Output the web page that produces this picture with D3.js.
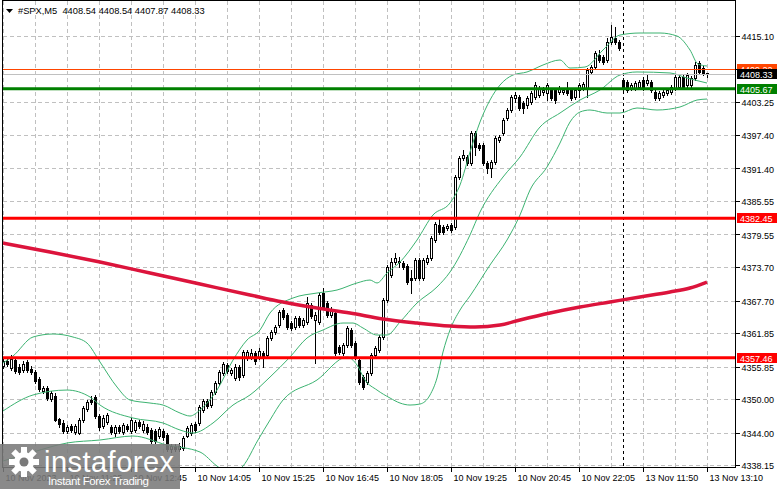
<!DOCTYPE html>
<html><head><meta charset="utf-8">
<script src="https://cdn.jsdelivr.net/npm/d3@7/dist/d3.min.js"></script>
<style>
html,body{margin:0;padding:0;background:#fff;overflow:hidden;}
svg{display:block;}
text{font-family:"Liberation Sans",Arial,sans-serif;}
</style></head><body>
<svg id="c" width="781" height="489"></svg>
<script>
// ---------- DATA ----------
const title = "#SPX,M5  4408.54 4408.54 4407.87 4408.33";
const opens = [4355.96,4356.86,4355.60,4357.03,4355.78,4355.24,4356.68,4355.42,4354.88,4353.63,4351.47,4352.01,4350.04,4350.58,4346.45,4345.74,4344.30,4345.20,4344.12,4343.94,4346.27,4348.25,4349.86,4350.40,4346.99,4345.20,4345.91,4345.02,4343.94,4345.02,4344.12,4345.20,4344.30,4344.48,4345.91,4344.48,4345.02,4344.48,4344.30,4343.40,4344.30,4343.58,4341.07,4341.61,4341.07,4341.25,4343.40,4343.94,4345.56,4345.74,4348.07,4349.68,4348.96,4351.29,4352.91,4354.70,4356.14,4354.70,4353.81,4355.78,4354.34,4357.57,4357.57,4358.29,4357.57,4358.29,4357.93,4360.98,4362.06,4363.31,4366.00,4365.11,4363.67,4362.95,4364.57,4363.31,4363.85,4366.90,4364.21,4363.85,4369.05,4367.26,4365.11,4365.47,4359.37,4358.29,4359.73,4362.42,4360.08,4357.03,4353.98,4353.09,4354.70,4357.93,4358.83,4361.16,4367.80,4372.28,4374.61,4374.79,4374.44,4373.90,4371.74,4371.74,4374.97,4371.74,4374.61,4375.33,4378.56,4381.25,4380.89,4380.71,4381.25,4380.89,4389.86,4393.27,4393.45,4392.37,4397.75,4395.60,4395.60,4392.37,4391.48,4392.55,4396.50,4397.75,4400.44,4401.88,4404.03,4404.21,4403.13,4402.78,4403.31,4404.21,4404.57,4405.11,4404.93,4405.47,4405.47,4405.11,4405.11,4405.83,4405.47,4404.21,4405.47,4405.83,4405.83,4408.70,4409.59,4411.74,4411.39,4410.85,4414.08,4414.79,4414.08,4407.26,4406.90,4405.83,4405.83,4406.00,4407.26,4406.72,4406.90,4405.11,4404.03,4404.57,4404.93,4405.11,4405.83,4406.00,4407.80,4406.36,4406.36,4407.62,4410.31,4409.41,4408.54];
const highs = [4357.39,4357.57,4357.93,4357.39,4356.32,4356.86,4357.03,4355.96,4355.24,4353.98,4352.37,4352.37,4351.47,4351.12,4346.63,4346.27,4345.38,4345.56,4345.56,4346.63,4348.78,4349.86,4350.58,4350.76,4347.35,4347.17,4347.53,4345.38,4345.38,4345.38,4345.74,4345.56,4346.63,4346.27,4346.27,4346.09,4345.56,4344.84,4344.66,4345.02,4344.66,4343.94,4341.97,4341.97,4342.15,4343.40,4345.20,4345.74,4345.91,4348.96,4350.04,4350.04,4351.65,4353.27,4355.24,4356.68,4356.50,4355.60,4356.32,4356.14,4358.83,4358.83,4359.01,4358.65,4359.19,4358.65,4361.34,4362.42,4363.31,4366.00,4366.36,4365.47,4364.03,4364.93,4364.93,4364.57,4368.34,4367.26,4365.65,4369.05,4369.95,4367.62,4366.54,4365.83,4359.73,4360.08,4363.13,4362.77,4360.44,4357.39,4354.34,4355.06,4358.29,4359.55,4361.52,4368.16,4374.08,4375.33,4376.23,4375.51,4374.79,4374.26,4373.18,4375.33,4375.33,4375.33,4375.87,4379.28,4381.79,4382.33,4381.25,4381.43,4381.61,4390.22,4393.63,4394.70,4393.81,4398.11,4398.11,4395.96,4395.96,4392.73,4392.91,4397.22,4397.39,4400.44,4402.24,4404.57,4405.11,4404.57,4403.49,4404.39,4405.29,4406.90,4406.18,4406.00,4406.72,4405.83,4405.83,4406.18,4405.83,4406.90,4405.83,4405.83,4406.72,4406.90,4409.41,4409.95,4412.46,4412.64,4411.74,4414.79,4417.13,4416.77,4414.43,4407.62,4407.26,4406.72,4407.08,4407.26,4407.80,4408.16,4407.26,4405.47,4405.29,4405.47,4405.83,4406.36,4408.16,4408.16,4408.16,4408.52,4407.98,4410.49,4410.67,4409.77,4408.54];
const lows = [4355.60,4355.96,4355.24,4354.70,4354.52,4354.88,4354.88,4354.52,4352.91,4351.47,4351.12,4349.86,4349.68,4346.09,4345.02,4343.94,4343.94,4344.12,4343.76,4343.76,4345.91,4347.89,4349.14,4346.63,4344.48,4344.84,4345.56,4343.76,4343.40,4343.94,4343.76,4344.30,4343.94,4344.12,4344.84,4344.12,4343.76,4342.15,4342.15,4343.05,4342.69,4340.71,4340.53,4340.71,4340.71,4340.89,4343.22,4343.58,4344.12,4345.38,4347.71,4348.43,4348.60,4350.94,4352.55,4354.34,4354.70,4354.34,4353.45,4353.45,4353.98,4357.03,4357.21,4356.32,4357.21,4355.78,4357.57,4360.62,4361.70,4362.95,4364.39,4362.60,4362.42,4362.60,4362.95,4362.95,4363.49,4364.57,4356.50,4363.49,4366.18,4364.75,4364.75,4357.93,4358.11,4357.93,4359.37,4359.37,4357.21,4352.73,4351.83,4352.73,4354.34,4357.57,4358.47,4360.80,4367.44,4371.92,4374.26,4373.72,4373.36,4370.67,4369.05,4371.38,4371.38,4371.38,4374.26,4374.97,4378.20,4379.64,4379.64,4380.36,4380.00,4380.53,4389.50,4392.91,4392.01,4392.01,4393.81,4394.70,4392.01,4390.58,4389.86,4392.19,4396.14,4397.39,4400.09,4401.52,4403.31,4401.88,4401.34,4402.24,4402.96,4403.85,4404.21,4404.57,4403.67,4403.67,4403.13,4404.75,4404.75,4404.57,4403.67,4403.85,4404.21,4405.47,4404.21,4408.34,4409.23,4410.49,4410.13,4410.49,4413.72,4413.72,4412.64,4405.47,4405.11,4405.47,4405.47,4405.65,4405.47,4406.36,4405.11,4403.67,4403.67,4404.21,4404.57,4404.75,4405.47,4405.65,4405.65,4406.00,4406.00,4407.26,4408.34,4408.16,4407.87];
const closes = [4356.86,4356.32,4357.21,4355.06,4354.88,4356.32,4355.24,4354.88,4353.27,4351.83,4352.01,4350.22,4351.12,4346.27,4345.56,4344.30,4345.02,4344.48,4345.20,4346.27,4348.43,4349.50,4349.50,4346.99,4345.02,4346.63,4347.17,4344.12,4345.02,4344.30,4345.38,4344.66,4346.27,4345.91,4345.20,4345.56,4344.12,4342.51,4342.51,4344.66,4343.22,4341.07,4341.61,4341.07,4341.61,4343.05,4344.84,4345.38,4344.48,4348.60,4349.68,4348.78,4351.29,4352.91,4354.88,4356.32,4355.06,4355.24,4355.78,4353.98,4358.47,4358.47,4358.29,4356.86,4358.65,4357.57,4360.98,4362.06,4362.95,4365.65,4364.75,4362.95,4362.77,4364.57,4363.31,4364.21,4367.26,4364.93,4365.11,4368.70,4366.54,4365.11,4366.18,4358.29,4358.47,4359.73,4362.77,4359.73,4357.57,4353.09,4352.19,4354.70,4357.93,4359.19,4361.16,4367.80,4373.72,4374.61,4375.33,4374.61,4373.72,4371.02,4371.38,4374.97,4371.74,4374.97,4375.33,4378.92,4381.43,4380.00,4380.00,4381.07,4380.36,4389.86,4393.27,4393.81,4392.37,4397.75,4395.24,4395.06,4392.37,4391.48,4392.55,4396.86,4397.04,4400.09,4401.88,4404.21,4404.57,4402.24,4402.24,4404.03,4404.93,4406.36,4405.83,4405.47,4406.36,4404.03,4403.67,4405.83,4405.47,4404.93,4404.03,4405.47,4406.36,4406.54,4409.05,4409.59,4412.10,4410.85,4410.49,4414.08,4414.97,4414.08,4413.00,4405.83,4405.47,4406.36,4406.72,4406.90,4405.83,4407.26,4405.47,4404.03,4404.93,4405.11,4405.47,4406.00,4407.80,4407.80,4406.00,4408.16,4407.62,4409.95,4408.70,4408.52,4408.33];

// Bollinger bands and moving average: [bar index, price]
const upperBand = [[0,4356.50],[2.5,4357.75],[7.5,4361.16],[12.5,4361.70],[17.5,4361.16],[21,4360.08],[24.25,4356.68],[28.5,4352.19],[31.75,4349.86],[36.75,4349.32],[40,4348.96],[44.25,4347.53],[46.75,4346.99],[49.25,4348.07],[53.5,4351.65],[57.5,4357.03],[61,4360.62],[64.25,4362.42],[66.75,4365.47],[72.5,4368.16],[78.5,4369.05],[83.5,4369.59],[88.5,4370.85],[91.75,4371.38],[93.5,4370.85],[96,4372.64],[99.25,4374.61],[103.5,4378.56],[107.5,4383.05],[111.75,4385.20],[114.25,4388.43],[116.75,4394.35],[119.25,4399.73],[121.75,4403.67],[124.25,4406.36],[127.5,4408.16],[131,4408.70],[135,4409.95],[139.25,4410.85],[141.75,4409.41],[145.5,4409.59],[150,4412.64],[154.25,4415.33],[159.25,4415.69],[164.25,4415.69],[168.5,4415.15],[171.75,4412.64],[173.75,4410.13],[176,4409.77]];
const middleBand = [[0,4347.89],[7.5,4350.76],[16,4351.65],[21.75,4350.40],[24.25,4348.96],[32.5,4346.63],[40,4345.74],[44.25,4344.48],[47.5,4343.94],[52.5,4345.74],[57.5,4348.96],[61.75,4350.76],[66.75,4353.98],[71.75,4357.57],[76,4360.98],[80,4362.42],[85,4363.67],[87.5,4363.67],[90,4362.77],[93.5,4361.52],[96,4361.52],[99.25,4363.85],[103.5,4367.26],[108.5,4370.13],[111.75,4372.82],[116.75,4379.46],[119.25,4383.58],[125,4389.86],[129.25,4393.45],[134.25,4398.83],[139.25,4401.34],[144.25,4403.67],[149.25,4405.47],[154.25,4408.16],[158.5,4408.70],[166.75,4408.52],[171,4407.62],[176,4406.72]];
const lowerBand = [[0,4338.92],[7.5,4340.53],[16,4342.15],[24.25,4342.69],[32.5,4343.40],[41,4341.79],[49.25,4340.53],[53.5,4338.02],[56.75,4336.59],[60,4338.02],[63.75,4342.69],[66.75,4346.27],[70,4349.86],[78.5,4353.45],[86,4357.57],[88.5,4356.14],[90.5,4353.45],[93.5,4351.65],[96.75,4350.22],[99.25,4349.32],[101.75,4348.96],[104.25,4349.14],[106.75,4350.76],[108.5,4353.81],[110,4358.47],[111.75,4362.42],[114.25,4366.00],[116.75,4368.52],[121.75,4374.08],[126,4378.56],[129.25,4383.05],[131.75,4387.53],[136,4391.65],[139.25,4395.96],[141.75,4399.73],[144.25,4401.52],[146.75,4401.88],[151,4401.34],[154.25,4401.34],[158.5,4402.24],[163.5,4401.88],[169.25,4402.42],[173.5,4403.67],[176,4403.85]];
const movingAverage = [[0,4378.02],[11.75,4376.41],[24.25,4374.61],[36.75,4372.64],[49.25,4370.67],[61.75,4368.70],[70,4367.44],[78.5,4366.36],[86.75,4365.47],[95,4364.39],[103.5,4363.67],[111.75,4363.13],[118,4362.95],[124.25,4363.31],[129.25,4364.21],[136.75,4365.47],[144.25,4366.54],[151.75,4367.44],[159.25,4368.34],[166.75,4369.23],[171.75,4369.95],[176,4371.02]];

const xTickIndex = [0,16,32,48,64,80,96,112,128,144,160,176];
const xTickLabels = ["10 Nov 2023","10 Nov 11:25","10 Nov 12:45","10 Nov 14:05","10 Nov 15:25","10 Nov 16:45","10 Nov 18:05","10 Nov 19:25","10 Nov 20:45","10 Nov 22:05","13 Nov 11:50","13 Nov 13:10"];
const yTickValues = [4415.10,4409.25,4403.25,4397.40,4391.40,4385.55,4379.55,4373.70,4367.70,4361.85,4355.85,4350.00,4344.00,4338.15];
const yTickLabels = ["4415.10","4409.25","4403.25","4397.40","4391.40","4385.55","4379.55","4373.70","4367.70","4361.85","4355.85","4350.00","4344.00","4338.15"];
const resistanceLevels = [4382.45, 4357.46];
const targetLevel = 4405.67;
const bidPrice = 4408.33;
const askPrice = 4409.22;
const sessionBreakIndex = 155;

// ---------- DRAW ----------
const W = 781, H = 489;
const L = 3, R = 735, T = 1, B = 467;
const svg = d3.select("#c");
const x = d3.scaleLinear().domain([0, 176]).range([3, 707]);
const y = d3.scaleLinear().domain([4338.15, 4415.10]).range([465.3, 36.3]);

svg.append("rect").attr("width", W).attr("height", H).attr("fill", "#fff");

svg.append("defs").append("clipPath").attr("id","plot")
  .append("rect").attr("x", L).attr("y", T).attr("width", R - L).attr("height", B - T);

const gridCol = "#c0c0c0";
const vGrid = d3.range(0, 177, 8);
svg.append("g").selectAll("line").data(vGrid).join("line")
  .attr("x1", d => Math.round(x(d)) + 0.5).attr("x2", d => Math.round(x(d)) + 0.5)
  .attr("y1", T).attr("y2", B)
  .attr("stroke", gridCol).attr("stroke-dasharray", "4,3").attr("shape-rendering","crispEdges");
svg.append("g").selectAll("line").data(yTickValues).join("line")
  .attr("x1", L).attr("x2", R)
  .attr("y1", d => Math.round(y(d)) + 0.5).attr("y2", d => Math.round(y(d)) + 0.5)
  .attr("stroke", gridCol).attr("stroke-dasharray", "4,3").attr("shape-rendering","crispEdges");

svg.append("line")
  .attr("x1", Math.round(x(sessionBreakIndex)) + 0.5).attr("x2", Math.round(x(sessionBreakIndex)) + 0.5)
  .attr("y1", T).attr("y2", B).attr("stroke", "#000").attr("stroke-dasharray", "3,3")
  .attr("shape-rendering","crispEdges");

const plot = svg.append("g").attr("clip-path", "url(#plot)");

const cg = plot.append("g").attr("shape-rendering", "crispEdges");
opens.forEach((o, i) => {
  const c = closes[i], h = highs[i], l = lows[i];
  const cx = Math.round(x(i));
  cg.append("line").attr("x1", cx + 0.5).attr("x2", cx + 0.5)
    .attr("y1", Math.round(y(h))).attr("y2", Math.round(y(l)) + 1).attr("stroke", "#000");
  const top = Math.round(y(Math.max(o, c))), bot = Math.round(y(Math.min(o, c)));
  if (c >= o && bot - top >= 2) {
    cg.append("rect").attr("x", cx - 0.5).attr("y", top + 0.5).attr("width", 2).attr("height", bot - top)
      .attr("fill", "#fff").attr("stroke", "#000");
  } else {
    cg.append("rect").attr("x", cx - 1).attr("y", top).attr("width", 3).attr("height", Math.max(1, bot - top + 1)).attr("fill", "#000");
  }
});

const band = d3.line().x(d => x(d[0])).y(d => y(d[1])).curve(d3.curveMonotoneX);
[upperBand, middleBand, lowerBand].forEach(b => {
  plot.append("path").attr("d", band(b)).attr("fill", "none").attr("stroke", "#3cb371").attr("stroke-width", 1);
});
plot.append("path").attr("d", band(movingAverage)).attr("fill", "none").attr("stroke", "#dc143c").attr("stroke-width", 3.5);

plot.append("line").attr("x1", L).attr("x2", R).attr("y1", Math.round(y(askPrice)) + 0.5).attr("y2", Math.round(y(askPrice)) + 0.5)
  .attr("stroke", "#ff4500").attr("shape-rendering","crispEdges");
plot.append("line").attr("x1", L).attr("x2", R).attr("y1", Math.round(y(bidPrice)) + 0.5).attr("y2", Math.round(y(bidPrice)) + 0.5)
  .attr("stroke", "#c0c0c0").attr("shape-rendering","crispEdges");
plot.append("line").attr("x1", L).attr("x2", R).attr("y1", y(targetLevel)).attr("y2", y(targetLevel))
  .attr("stroke", "#008000").attr("stroke-width", 3);
resistanceLevels.forEach(v => {
  plot.append("line").attr("x1", L).attr("x2", R).attr("y1", y(v)).attr("y2", y(v))
    .attr("stroke", "#ff0000").attr("stroke-width", 3);
});

svg.append("rect").attr("x", L - 0.5).attr("y", T - 0.5).attr("width", R - L + 1).attr("height", B - T + 1)
  .attr("fill", "none").attr("stroke", "#000").attr("shape-rendering","crispEdges");

const yAxis = d3.axisRight(y).tickValues(yTickValues).tickFormat((d, i) => yTickLabels[i]).tickSize(4).tickPadding(2);
const ya = svg.append("g").attr("transform", `translate(${R + 0.5},0)`).call(yAxis);
ya.select(".domain").remove();
ya.selectAll("line").attr("stroke", "#000").attr("shape-rendering","crispEdges");
ya.selectAll("text").attr("font-size", 9).attr("fill", "#000").attr("font-family", "Liberation Sans, Arial, sans-serif").attr("dy", "0.4em");
ya.selectAll(".tick").filter(d => Math.abs(y(d) - y(bidPrice)) < 8).select("text").remove();

const xAxis = d3.axisBottom(x).tickValues(xTickIndex).tickFormat((d, i) => xTickLabels[i]).tickSize(4).tickPadding(3);
const xa = svg.append("g").attr("transform", `translate(0,${B + 0.5})`).call(xAxis);
xa.select(".domain").remove();
xa.selectAll("line").attr("stroke", "#000").attr("shape-rendering","crispEdges");
xa.selectAll("text").attr("font-size", 9).attr("fill", "#000").attr("text-anchor", "start").attr("dx", 2).attr("font-family", "Liberation Sans, Arial, sans-serif");

function tag(v, bg, label) {
  const cy = y(v);
  svg.append("rect").attr("x", 737).attr("y", Math.round(cy) - 5).attr("width", 40).attr("height", 10).attr("fill", bg);
  svg.append("text").attr("x", 740).attr("y", Math.round(cy) + 4).attr("font-size", 9).attr("fill", "#fff").text(label);
}
tag(askPrice, "#ff4500", d3.format(".2f")(askPrice));
tag(bidPrice, "#000000", d3.format(".2f")(bidPrice));
tag(targetLevel, "#008000", d3.format(".2f")(targetLevel));
resistanceLevels.forEach(v => tag(v, "#ff0000", d3.format(".2f")(v)));

svg.append("path").attr("d", "M6,9 L13,9 L9.5,13 Z").attr("fill", "#000");
svg.append("text").attr("x", 18).attr("y", 14).attr("font-size", 9.3).attr("fill", "#000").style("white-space","pre").text(title);

const lg = svg.append("g");
lg.append("rect").attr("x", 0).attr("y", 444).attr("width", 180).attr("height", 45).attr("fill", "#7a7a7a").attr("opacity", 0.88);
const gear = lg.append("g").attr("transform", "translate(24,462)");
d3.range(8).forEach(k => {
  gear.append("rect").attr("x", -3).attr("y", -15).attr("width", 6).attr("height", 8).attr("fill", "#fff")
    .attr("transform", `rotate(${k * 45})`);
});
gear.append("circle").attr("r", 10).attr("fill", "#fff");
gear.append("circle").attr("r", 4.5).attr("fill", "#7a7a7a");
lg.append("text").attr("x", 44).attr("y", 472).attr("font-size", 29).attr("fill", "#fff").attr("font-family", "Open Sans, sans-serif").attr("textLength", 130).text("instaforex");
lg.append("text").attr("x", 48).attr("y", 485).attr("font-size", 11.5).attr("fill", "#fff").attr("font-family", "Open Sans, sans-serif").attr("textLength", 101).text("Instant Forex Trading");
</script>
</body></html>
